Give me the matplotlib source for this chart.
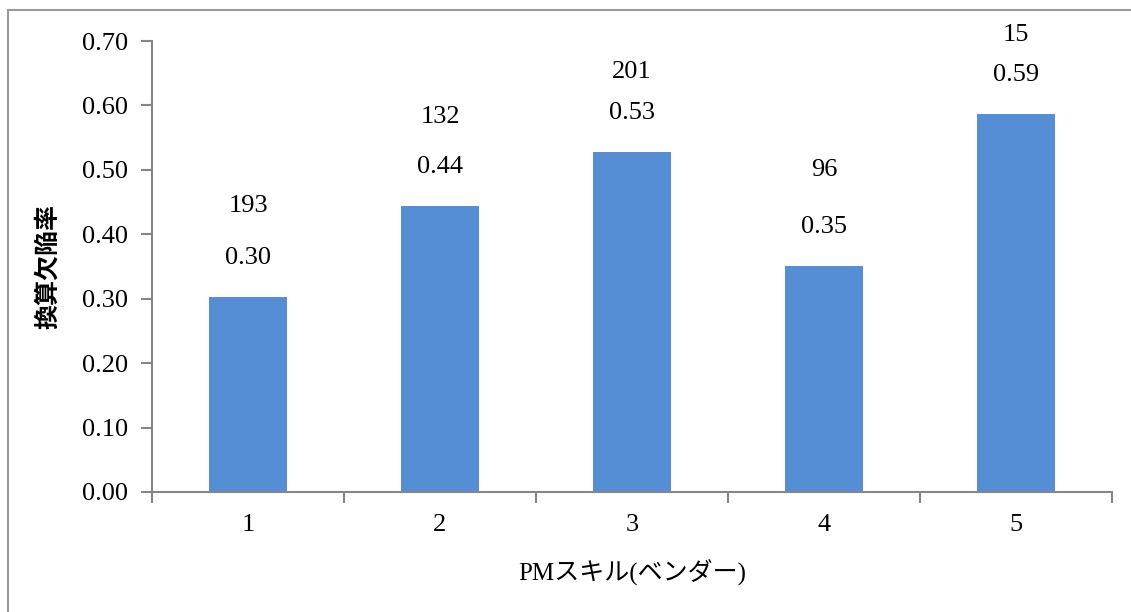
import numpy as np
import matplotlib.pyplot as plt
from matplotlib.lines import Line2D

plt.rcParams['font.family'] = ['Liberation Serif', 'Noto Sans CJK JP']

# data
categories = ['1', '2', '3', '4', '5']
defect_rate = [0.302, 0.444, 0.528, 0.351, 0.587]
counts = [193, 132, 201, 96, 15]

# label placement (pixels above bar top), as laid out in the original
count_offsets = [93, 91, 82, 98, 81]

fig = plt.figure(figsize=(11.31, 6.12), dpi=100)
ax = fig.add_axes([152 / 1131, 1 - 492 / 612, 960 / 1131, 451 / 612])

x = np.arange(len(categories))
ax.bar(x, defect_rate, width=0.41, color='#558ED5', zorder=2)

# labels above bars: rate then count
for xi, v, n, off in zip(x, defect_rate, counts, count_offsets):
    ax.annotate(f'{v:.2f}', (xi, v), xytext=(0, 39), textcoords='offset pixels',
                ha='center', va='center', fontsize=19, annotation_clip=False)
    ax.annotate(str(n), (xi, v), xytext=(0, off - 2), textcoords='offset pixels',
                ha='center', va='center', fontsize=19, annotation_clip=False)

ax.set_xlim(-0.5, len(categories) - 0.5)
ax.set_ylim(0, 0.70)
ax.set_yticks(np.arange(0, 0.71, 0.1))
ax.set_yticklabels([f'{t:.2f}' for t in np.arange(0, 0.71, 0.1)])
ax.set_xticks(x)
ax.set_xticklabels(categories)
ax.set_xticks(np.arange(-0.5, len(categories), 1), minor=True)

for s in ['top', 'right']:
    ax.spines[s].set_visible(False)
for s in ['left', 'bottom']:
    ax.spines[s].set_color('#868686')
    ax.spines[s].set_linewidth(1.5)

ax.tick_params(axis='y', length=8, width=1.5, color='#868686', labelsize=19, pad=9)
ax.tick_params(axis='x', which='major', length=0, labelsize=19, pad=16)
ax.tick_params(axis='x', which='minor', length=8, width=1.5, color='#868686')

ax.set_ylabel('換算欠陥率', fontsize=18, fontweight='bold', labelpad=16,
              family=['Noto Sans CJK JP'])
ax.set_xlabel('PMスキル(ベンダー)', fontsize=18, labelpad=17)

# outer chart frame (partly outside the image)
fig.add_artist(Line2D([8 / 1131, 8 / 1131], [0, 1 - 10 / 612], color='#9a9a9a', lw=1.5))
fig.add_artist(Line2D([8 / 1131, 1], [1 - 10 / 612, 1 - 10 / 612], color='#9a9a9a', lw=1.5))

fig.savefig('out.png', dpi=100)
